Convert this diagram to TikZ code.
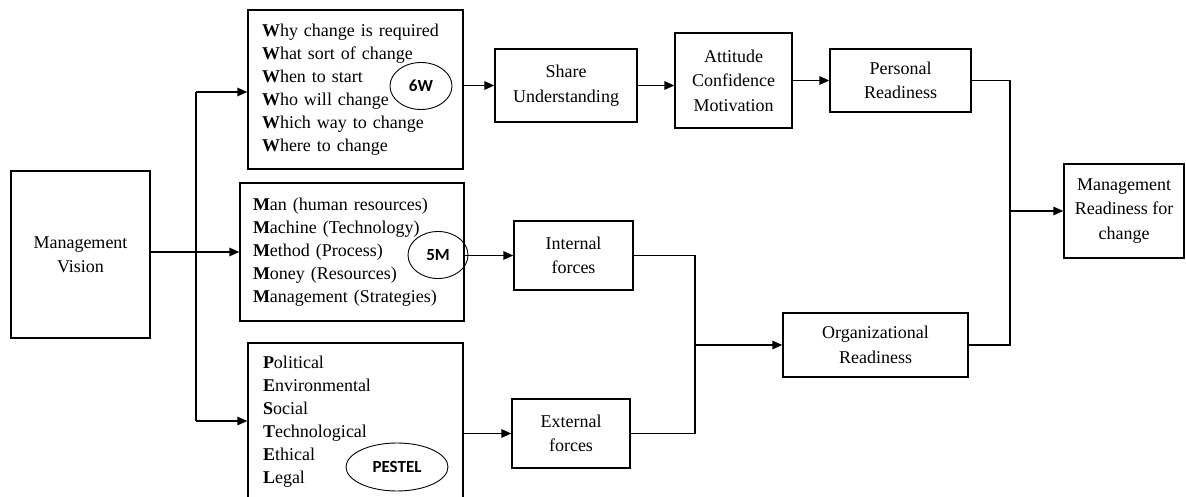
\documentclass[tikz,border=0pt]{standalone}
\usepackage{fontspec}
\setmainfont{Liberation Serif}
\newfontfamily\tagfont{Carlito}
\usetikzlibrary{arrows.meta,shapes.geometric}

\begin{document}
\begin{tikzpicture}[x=1pt,y=-1pt,
  box/.style={draw, line width=1.3pt, inner sep=0pt, align=center,
              font=\fontsize{18}{24.5}\selectfont},
  listbox/.style={draw, line width=1.3pt, inner ysep=0pt, align=left,
              font=\fontsize{18}{23}\selectfont},
  tag/.style={draw, ellipse, line width=0.9pt, inner sep=0pt,
              font=\tagfont\bfseries\fontsize{17}{20}\selectfont},
  link/.style={line width=1.3pt},
  arr/.style={line width=1.3pt, -{Triangle[length=10pt,width=8.5pt]}}]

\useasboundingbox (0,0) rectangle (1186,497);

% left source box
\node[box, minimum width=139, minimum height=167] (mv) at (80.5,254.5) {Management\\Vision};

% three analysis boxes
\node[listbox, minimum width=215, minimum height=159, inner xsep=14, text width=187] (w6) at (355.5,89.5)
  {\textbf{W}hy change is required\\\textbf{W}hat sort of change\\\textbf{W}hen to start\\\textbf{W}ho will change\\\textbf{W}hich way to change\\\textbf{W}here to change};
\node[listbox, minimum width=224, minimum height=138, inner xsep=13, text width=198] (m5) at (352,252)
  {\textbf{M}an (human resources)\\\textbf{M}achine (Technology)\\\textbf{M}ethod (Process)\\\textbf{M}oney (Resources)\\\textbf{M}anagement (Strategies)};
\node[listbox, minimum width=215, minimum height=158, inner xsep=15, text width=185] (pest) at (355.5,422)
  {\textbf{P}olitical\\\textbf{E}nvironmental\\\textbf{S}ocial\\\textbf{T}echnological\\\textbf{E}thical\\\textbf{L}egal};

% tags
\node[tag, minimum width=62, minimum height=47] (t6w) at (421,86) {6W};
\node[tag, minimum width=60, minimum height=47] (t5m) at (438,255) {5M};
\node[tag, minimum width=102, minimum height=48] (tpe) at (397,467) {PESTEL};

% upper chain
\node[box, minimum width=142, minimum height=73] (sh) at (566,85.5) {Share\\Understanding};
\node[box, minimum width=117, minimum height=95] (att) at (733.5,80.5) {Attitude\\Confidence\\Motivation};
\node[box, minimum width=141, minimum height=63] (pers) at (900.5,80.5) {Personal\\Readiness};

% forces
\node[box, minimum width=119, minimum height=69] (int) at (573.5,255.5) {Internal\\forces};
\node[box, minimum width=118, minimum height=69] (ext) at (571,433.5) {External\\forces};
\node[box, minimum width=185, minimum height=64] (org) at (875.5,345) {Organizational\\Readiness};

% result
\node[box, minimum width=120, minimum height=94] (mr) at (1124,211) {Management\\Readiness for\\change};

% branching from the vision
\coordinate (jt) at (196,92);
\coordinate (jb) at (196,421);
\draw[link] (jt) -- (jb);
\draw[arr] (mv.east |- m5.west) -- (m5.west);
\draw[arr] (jt) -- (w6.west |- jt);
\draw[arr] (jb) -- (pest.west |- jb);

% upper chain links
\draw[arr] (w6.east |- sh.west) -- (sh.west);
\draw[arr] (sh.east) -- (att.west |- sh.east);
\draw[arr] (att.east) -- (pers.west);

% forces links
\draw[arr] (m5.east |- int.west) -- (int.west);
\draw[arr] (pest.east |- ext.west) -- (ext.west);
\coordinate (jf) at (695,345);
\draw[link] (int.east) -| (jf) |- (ext.east);
\draw[arr] (jf) -- (org.west);

% readiness merge
\coordinate (jr) at (1010,211);
\draw[link] (pers.east) -| (jr) |- (org.east);
\draw[arr] (jr) -- (mr.west);
\end{tikzpicture}
\end{document}
